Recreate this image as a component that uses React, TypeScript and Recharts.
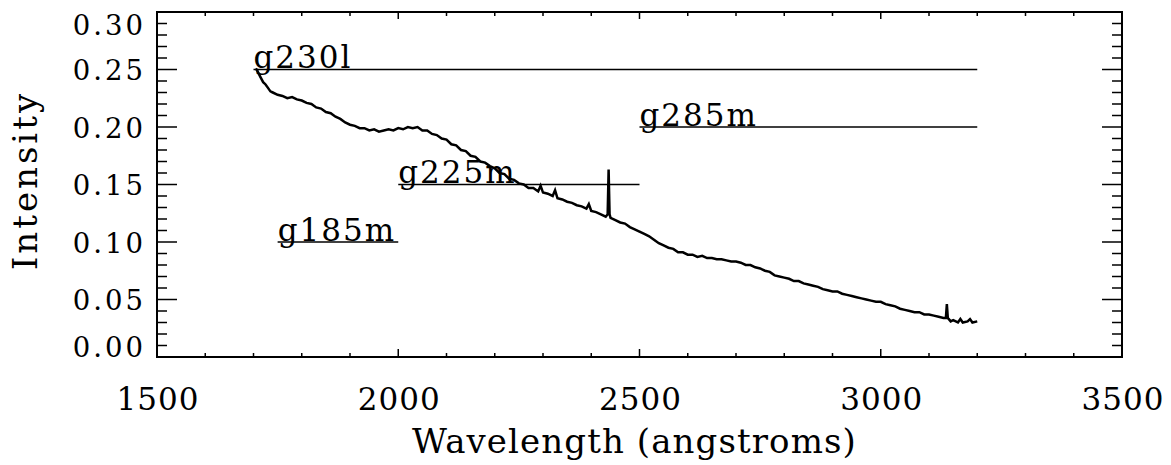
import React from "react";
import { LineChart, Line, XAxis, YAxis, LabelList, Label, ReferenceArea } from "recharts";

const FONT = "DejaVu Serif";
const INK = "#000";

// spectrum: [wavelength (Å), intensity]
const spectrum: [number, number][] = [
  [1705, 0.251], [1710, 0.247], [1715, 0.243], [1720, 0.239], [1725, 0.237], [1730, 0.234],
  [1735, 0.231], [1740, 0.230], [1750, 0.228], [1760, 0.227], [1770, 0.225], [1780, 0.226],
  [1790, 0.224], [1800, 0.223], [1810, 0.221], [1820, 0.220], [1830, 0.217], [1840, 0.216],
  [1850, 0.213], [1860, 0.212], [1870, 0.209], [1880, 0.207], [1890, 0.204], [1900, 0.202],
  [1910, 0.201], [1920, 0.199], [1930, 0.199], [1940, 0.197], [1950, 0.198], [1960, 0.196],
  [1970, 0.197], [1980, 0.198], [1990, 0.197], [2000, 0.199], [2010, 0.198], [2020, 0.2],
  [2030, 0.199], [2040, 0.2], [2050, 0.197], [2060, 0.197], [2070, 0.194], [2080, 0.193],
  [2090, 0.19], [2100, 0.189], [2110, 0.185], [2120, 0.184], [2130, 0.18], [2140, 0.179],
  [2150, 0.175], [2160, 0.174], [2170, 0.17], [2180, 0.169], [2190, 0.166], [2200, 0.164],
  [2210, 0.16], [2220, 0.159], [2230, 0.155], [2240, 0.154], [2250, 0.151], [2260, 0.15],
  [2270, 0.147], [2280, 0.147], [2290, 0.144], [2295, 0.149], [2300, 0.143], [2310, 0.142],
  [2320, 0.14], [2325, 0.145], [2330, 0.138], [2340, 0.137], [2350, 0.135], [2360, 0.134],
  [2370, 0.132], [2380, 0.131], [2390, 0.129], [2395, 0.133], [2400, 0.127], [2410, 0.126],
  [2420, 0.124], [2430, 0.122], [2434, 0.124], [2436, 0.163], [2438, 0.124], [2440, 0.121],
  [2450, 0.119], [2460, 0.117], [2470, 0.116], [2480, 0.113], [2490, 0.111], [2500, 0.109],
  [2510, 0.107], [2520, 0.105], [2530, 0.102], [2540, 0.099], [2550, 0.097], [2560, 0.095],
  [2570, 0.094], [2580, 0.091], [2590, 0.091], [2600, 0.089], [2610, 0.089], [2620, 0.087],
  [2630, 0.088], [2640, 0.086], [2650, 0.086], [2660, 0.085], [2670, 0.085], [2680, 0.084],
  [2690, 0.083], [2700, 0.083], [2710, 0.082], [2720, 0.08], [2730, 0.08], [2740, 0.078],
  [2750, 0.077], [2760, 0.075], [2770, 0.074], [2780, 0.071], [2790, 0.07], [2800, 0.069],
  [2810, 0.068], [2820, 0.066], [2830, 0.066], [2840, 0.064], [2850, 0.063], [2860, 0.062],
  [2870, 0.061], [2880, 0.059], [2890, 0.058], [2900, 0.057], [2910, 0.057], [2920, 0.055],
  [2930, 0.054], [2940, 0.053], [2950, 0.052], [2960, 0.051], [2970, 0.05], [2980, 0.049],
  [2990, 0.048], [3000, 0.048], [3010, 0.046], [3020, 0.045], [3030, 0.044], [3040, 0.042],
  [3050, 0.041], [3060, 0.04], [3070, 0.039], [3080, 0.039], [3090, 0.037], [3100, 0.037],
  [3110, 0.036], [3120, 0.035], [3130, 0.034], [3135, 0.034], [3137, 0.046], [3139, 0.034],
  [3145, 0.031], [3150, 0.032], [3160, 0.03], [3165, 0.033], [3170, 0.03], [3180, 0.031],
  [3185, 0.033], [3190, 0.03], [3200, 0.031],
];

// grating coverage bars
const gratingNames = ["g230l", "g285m", "g225m", "g185m"];
const gratingStart = [1700, 2500, 2000, 1750];
const gratingEnd = [3200, 3200, 2500, 2000];
const gratingLevel = [0.25, 0.2, 0.15, 0.1];

const xTicks = [
  1500, 1600, 1700, 1800, 1900, 2000, 2100, 2200, 2300, 2400, 2500,
  2600, 2700, 2800, 2900, 3000, 3100, 3200, 3300, 3400, 3500,
];
const yTicks = [
  0, 0.01, 0.02, 0.03, 0.04, 0.05, 0.06, 0.07, 0.08, 0.09, 0.1, 0.11, 0.12, 0.13, 0.14, 0.15,
  0.16, 0.17, 0.18, 0.19, 0.2, 0.21, 0.22, 0.23, 0.24, 0.25, 0.26, 0.27, 0.28, 0.29, 0.3,
];

const spectrumData = spectrum.map(([w, v]) => ({ w, v }));
const gratingData = gratingNames.map((name, i) => [
  { w: gratingStart[i], v: gratingLevel[i], name },
  { w: gratingEnd[i], v: gratingLevel[i], name: "" },
]);

const isMajorX = (v: number) => v % 500 === 0;
const isMajorY = (v: number) => Math.round(v * 100) % 5 === 0;

function BottomTick(p: any) {
  const { x, y, payload } = p;
  const major = isMajorX(payload.value);
  return (
    <g>
      <line x1={x} x2={x} y1={y} y2={y - (major ? 8 : 4)} stroke={INK} strokeWidth={1.5} />
      {major && (
        <text x={x + 1} y={y + 53} textAnchor="middle" fontFamily={FONT} fontSize={31} letterSpacing={1} fill={INK}>
          {payload.value}
        </text>
      )}
    </g>
  );
}

function TopTick(p: any) {
  const { x, y, payload } = p;
  const major = isMajorX(payload.value);
  return <line x1={x} x2={x} y1={y} y2={y + (major ? 7 : 4)} stroke={INK} strokeWidth={1.5} />;
}

function LeftTick(p: any) {
  const { x, y, payload } = p;
  const v = payload.value;
  const major = isMajorY(v);
  // end labels are pulled inside the frame, like the original
  let dy = 10.5;
  if (v >= 0.295) dy = 23;
  if (v <= 0.005) dy = 0;
  return (
    <g>
      <line x1={x} x2={x + (major ? 20 : 10)} y1={y} y2={y} stroke={INK} strokeWidth={1.5} />
      {major && (
        <text x={x - 11} y={y + dy} textAnchor="end" fontFamily={FONT} fontSize={27.5} letterSpacing={3} fill={INK}>
          {v.toFixed(2)}
        </text>
      )}
    </g>
  );
}

function RightTick(p: any) {
  const { x, y, payload } = p;
  const major = isMajorY(payload.value);
  return <line x1={x} x2={x - (major ? 20 : 10)} y1={y} y2={y} stroke={INK} strokeWidth={1.5} />;
}

function GratingLabel(p: any) {
  if (!p.value) return null;
  const x = p.x ?? p.viewBox?.x;
  const y = p.y ?? p.viewBox?.y;
  return (
    <text x={x} y={y - 1.5} fontFamily={FONT} fontSize={31} letterSpacing={2} fill={INK}>
      {p.value}
    </text>
  );
}

export default function App() {
  return (
    <div style={{ position: "absolute", left: 0, top: 0, width: 1171, height: 465, background: "#fff" }}>
      <LineChart width={1171} height={465} margin={{ top: 11, right: 48, bottom: 48, left: 57 }}>
        <XAxis
          dataKey="w"
          type="number"
          domain={[1500, 3500]}
          ticks={xTicks}
          interval={0}
          allowDataOverflow
          height={60}
          tickSize={0}
          tickMargin={0}
          tickLine={false}
          tick={<BottomTick />}
          axisLine={false}
        >
          <Label
            content={(props: any) => {
              const vb = props.viewBox;
              return (
                <text
                  x={vb.x + vb.width / 2 - 5}
                  y={vb.y + 96}
                  textAnchor="middle"
                  fontFamily={FONT}
                  fontSize={34}
                  letterSpacing={1.1}
                  fill={INK}
                >
                  Wavelength (angstroms)
                </text>
              );
            }}
          />
        </XAxis>
        <XAxis
          xAxisId="top"
          orientation="top"
          dataKey="w"
          type="number"
          domain={[1500, 3500]}
          ticks={xTicks}
          interval={0}
          allowDataOverflow
          height={1}
          tickSize={0}
          tickMargin={0}
          tickLine={false}
          tick={<TopTick />}
          axisLine={false}
        />
        <YAxis
          type="number"
          domain={[0, 0.3]}
          ticks={yTicks}
          interval={0}
          allowDataOverflow
          width={100}
          tickSize={0}
          tickMargin={0}
          tickLine={false}
          tick={<LeftTick />}
          axisLine={false}
        >
          <Label
            content={(props: any) => {
              const vb = props.viewBox;
              const cx = vb.x - 20;
              const cy = vb.y + vb.height / 2 - 4;
              return (
                <text
                  x={cx}
                  y={cy}
                  transform={`rotate(-90, ${cx}, ${cy})`}
                  textAnchor="middle"
                  fontFamily={FONT}
                  fontSize={34}
                  letterSpacing={3}
                  fill={INK}
                >
                  Intensity
                </text>
              );
            }}
          />
        </YAxis>
        <YAxis
          yAxisId="right"
          orientation="right"
          type="number"
          domain={[0, 0.3]}
          ticks={yTicks}
          interval={0}
          allowDataOverflow
          width={1}
          tickSize={0}
          tickMargin={0}
          tickLine={false}
          tick={<RightTick />}
          axisLine={false}
        />
        {/* plot frame */}
        <ReferenceArea x1={1500} x2={3500} y1={0} y2={0.3} fill="none" stroke={INK} strokeWidth={2} ifOverflow="visible" />
        {gratingData.map((d, i) => (
          <Line
            key={gratingNames[i]}
            data={d}
            dataKey="v"
            type="linear"
            stroke={INK}
            strokeWidth={1.5}
            dot={false}
            activeDot={false}
            isAnimationActive={false}
          >
            <LabelList dataKey="name" content={<GratingLabel />} />
          </Line>
        ))}
        <Line
          data={spectrumData}
          dataKey="v"
          type="linear"
          stroke={INK}
          strokeWidth={2.5}
          dot={false}
          activeDot={false}
          isAnimationActive={false}
        />
      </LineChart>
    </div>
  );
}
